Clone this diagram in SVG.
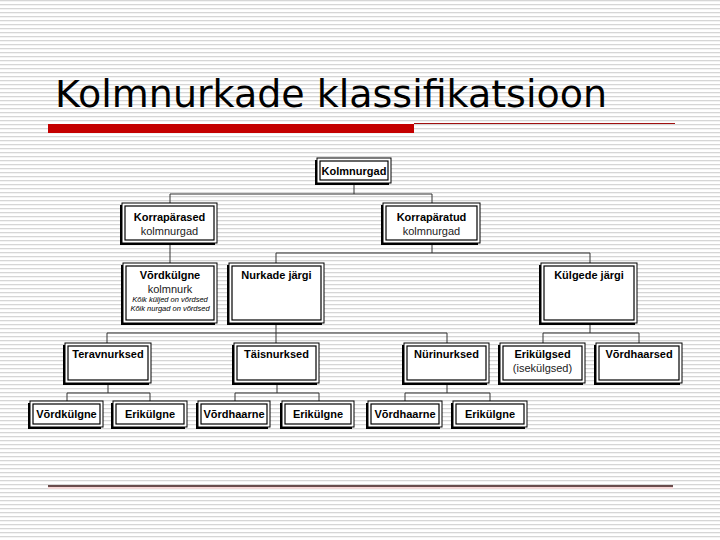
<svg xmlns="http://www.w3.org/2000/svg" width="720" height="540" viewBox="0 0 720 540">
<defs>
<pattern id="stripes" x="0" y="0" width="8" height="4" patternUnits="userSpaceOnUse">
<rect x="0" y="0" width="8" height="1.3" fill="#d6d6d6"/>
</pattern>
<style>
.sh{fill:#000}
.bx{fill:#fff;stroke:#000;stroke-width:1}
.in{fill:none;stroke:#000;stroke-width:1.2}
.t{font-family:"Liberation Sans",Arial,sans-serif;font-size:11px;font-weight:bold;fill:#000;text-anchor:middle}
.r{font-family:"Liberation Sans",Arial,sans-serif;font-size:11px;fill:#222;text-anchor:middle}
.i{font-family:"Liberation Sans",Arial,sans-serif;font-size:7.5px;font-style:italic;fill:#000;text-anchor:middle}
.c{stroke:#333;stroke-width:1;fill:none}
</style>
</defs>
<rect width="720" height="540" fill="#fff"/>
<rect width="720" height="540" fill="url(#stripes)"/>
<text x="55" y="107" font-family="'DejaVu Sans',sans-serif" font-size="37" fill="#000" textLength="552" lengthAdjust="spacingAndGlyphs">Kolmnurkade klassifikatsioon</text>
<rect x="48" y="124" width="366" height="9" fill="#c40000"/>
<line x1="414" y1="123.5" x2="675" y2="123.5" stroke="#a01010" stroke-width="1"/>
<rect x="48" y="486.8" width="625" height="2" fill="#f6d6d6"/>
<line x1="48" y1="486" x2="673" y2="486" stroke="#3a1414" stroke-width="1.4"/>

<g id="connectors">
<path class="c" d="M354 183V194M170 194H432M170 194V203M432 194V203"/>
<path class="c" d="M170 243V263"/>
<path class="c" d="M432 243V253M276 253H590M276 253V263M590 253V263"/>
<path class="c" d="M276 323V333M107 333H447M107 333V343M276 333V343M447 333V343"/>
<path class="c" d="M590 323V333M543 333H639M543 333V343M639 333V343"/>
<path class="c" d="M108 383V393M67 393H150M67 393V401M150 393V401"/>
<path class="c" d="M277 383V393M235 393H319M235 393V401M319 393V401"/>
<path class="c" d="M447 383V393M405 393H490M405 393V401M490 393V401"/>
</g>

<g id="kolmnurgad">
<rect class="sh" x="315" y="160" width="74" height="25"/>
<rect class="bx" x="317" y="158" width="74" height="25"/>
<rect class="in" x="320" y="161" width="68" height="19"/>
<text class="t" x="354" y="175">Kolmnurgad</text>
</g>
<g id="korraparased">
<rect class="sh" x="120" y="205" width="95" height="40"/>
<rect class="bx" x="122" y="203" width="95" height="40"/>
<rect class="in" x="125" y="206" width="89" height="34"/>
<text class="t" x="169.5" y="221">Korrapärased</text>
<text class="r" x="169.5" y="235">kolmnurgad</text>
</g>
<g id="korraparatud">
<rect class="sh" x="381" y="205" width="97" height="40"/>
<rect class="bx" x="383" y="203" width="97" height="40"/>
<rect class="in" x="386" y="206" width="91" height="34"/>
<text class="t" x="431.5" y="221">Korrapäratud</text>
<text class="r" x="431.5" y="235">kolmnurgad</text>
</g>
<g id="vordkulgne-kolmnurk">
<rect class="sh" x="121" y="265" width="94" height="60"/>
<rect class="bx" x="123" y="263" width="94" height="60"/>
<rect class="in" x="126" y="266" width="88" height="54"/>
<text class="t" x="170" y="279">Võrdkülgne</text>
<text class="r" x="170" y="293" font-size="11.5">kolmnurk</text>
<text class="i" x="170" y="302">Kõik küljed on võrdsed</text>
<text class="i" x="170" y="311">Kõik nurgad on võrdsed</text>
</g>
<g id="nurkade-jargi">
<rect class="sh" x="227" y="265" width="95" height="60"/>
<rect class="bx" x="229" y="263" width="95" height="60"/>
<rect class="in" x="232" y="266" width="89" height="54"/>
<text class="t" x="276.5" y="279">Nurkade järgi</text>
</g>
<g id="kulgede-jargi">
<rect class="sh" x="539" y="265" width="96" height="60"/>
<rect class="bx" x="541" y="263" width="96" height="60"/>
<rect class="in" x="544" y="266" width="90" height="54"/>
<text class="t" x="589" y="279">Külgede järgi</text>
</g>
<g id="teravnurksed">
<rect class="sh" x="63" y="345" width="86" height="40"/>
<rect class="bx" x="65" y="343" width="86" height="40"/>
<rect class="in" x="68" y="346" width="80" height="34"/>
<text class="t" x="108" y="358">Teravnurksed</text>
</g>
<g id="taisnurksed">
<rect class="sh" x="232" y="345" width="85" height="40"/>
<rect class="bx" x="234" y="343" width="85" height="40"/>
<rect class="in" x="237" y="346" width="79" height="34"/>
<text class="t" x="276.5" y="358">Täisnurksed</text>
</g>
<g id="nurinurksed">
<rect class="sh" x="402" y="345" width="85" height="40"/>
<rect class="bx" x="404" y="343" width="85" height="40"/>
<rect class="in" x="407" y="346" width="79" height="34"/>
<text class="t" x="446.5" y="358">Nürinurksed</text>
</g>
<g id="erikulgsed">
<rect class="sh" x="498" y="345" width="85" height="40"/>
<rect class="bx" x="500" y="343" width="85" height="40"/>
<rect class="in" x="503" y="346" width="79" height="34"/>
<text class="t" x="542.5" y="358">Erikülgsed</text>
<text class="r" x="542.5" y="372">(isekülgsed)</text>
</g>
<g id="vordhaarsed">
<rect class="sh" x="594" y="345" width="86" height="40"/>
<rect class="bx" x="596" y="343" width="86" height="40"/>
<rect class="in" x="599" y="346" width="80" height="34"/>
<text class="t" x="639" y="358">Võrdhaarsed</text>
</g>
<g id="b-vordkulgne">
<rect class="sh" x="28" y="403" width="73" height="26"/>
<rect class="bx" x="30" y="401" width="73" height="26"/>
<rect class="in" x="33" y="404" width="67" height="20"/>
<text class="t" x="66.5" y="418">Võrdkülgne</text>
</g>
<g id="b-erikulgne-1">
<rect class="sh" x="111" y="403" width="74" height="26"/>
<rect class="bx" x="113" y="401" width="74" height="26"/>
<rect class="in" x="116" y="404" width="68" height="20"/>
<text class="t" x="150" y="418">Erikülgne</text>
</g>
<g id="b-vordhaarne-1">
<rect class="sh" x="196" y="403" width="72" height="26"/>
<rect class="bx" x="198" y="401" width="72" height="26"/>
<rect class="in" x="201" y="404" width="66" height="20"/>
<text class="t" x="234" y="418">Võrdhaarne</text>
</g>
<g id="b-erikulgne-2">
<rect class="sh" x="280" y="403" width="72" height="26"/>
<rect class="bx" x="282" y="401" width="72" height="26"/>
<rect class="in" x="285" y="404" width="66" height="20"/>
<text class="t" x="318" y="418">Erikülgne</text>
</g>
<g id="b-vordhaarne-2">
<rect class="sh" x="366" y="403" width="74" height="26"/>
<rect class="bx" x="368" y="401" width="74" height="26"/>
<rect class="in" x="371" y="404" width="68" height="20"/>
<text class="t" x="405" y="418">Võrdhaarne</text>
</g>
<g id="b-erikulgne-3">
<rect class="sh" x="451" y="403" width="74" height="26"/>
<rect class="bx" x="453" y="401" width="74" height="26"/>
<rect class="in" x="456" y="404" width="68" height="20"/>
<text class="t" x="490" y="418">Erikülgne</text>
</g>
</svg>
